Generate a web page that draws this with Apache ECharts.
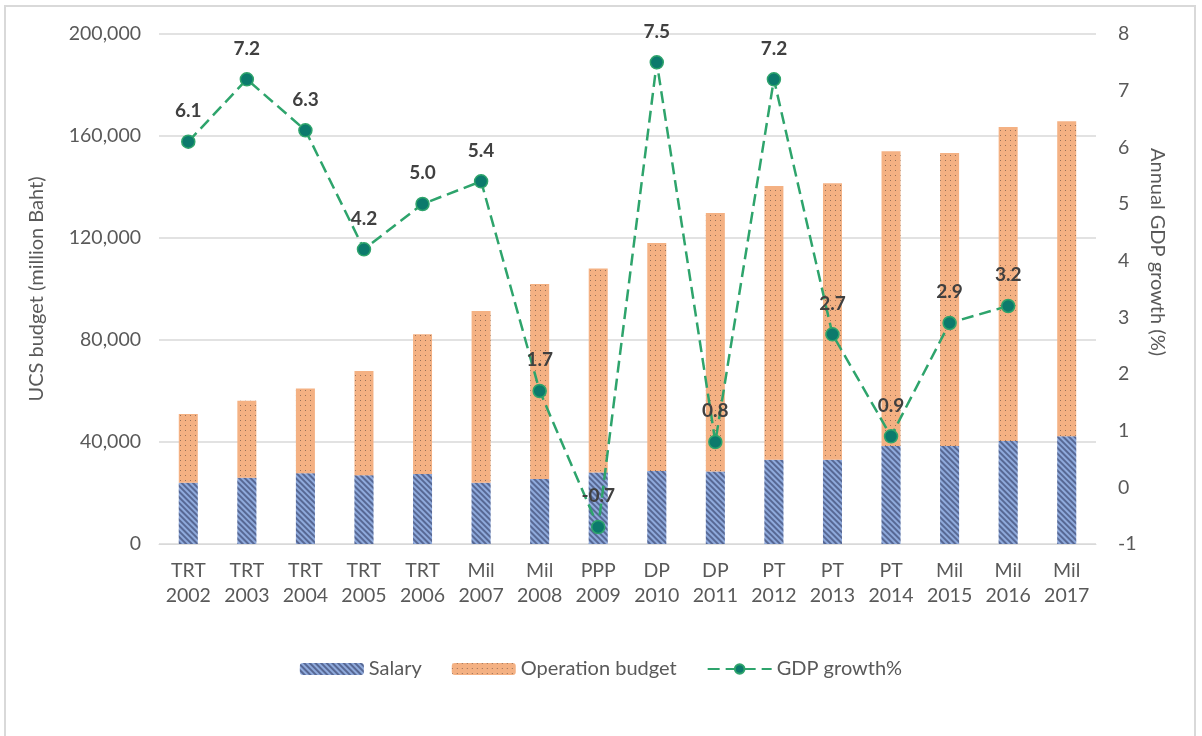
<!DOCTYPE html>
<html>
<head>
<meta charset="utf-8">
<script src="https://cdn.jsdelivr.net/npm/echarts@6/dist/echarts.min.js"></script>
<style>
  html, body { margin: 0; padding: 0; background: #fff; }
  #chart { width: 1202px; height: 736px; }
</style>
</head>
<body>
<div id="chart"></div>
<script>
var parties = ['TRT', 'TRT', 'TRT', 'TRT', 'TRT', 'Mil', 'Mil', 'PPP', 'DP', 'DP', 'PT', 'PT', 'PT', 'Mil', 'Mil', 'Mil'];
var years = ['2002', '2003', '2004', '2005', '2006', '2007', '2008', '2009', '2010', '2011', '2012', '2013', '2014', '2015', '2016', '2017'];
var salary = [24000, 26000, 27700, 27000, 27500, 24000, 25500, 28000, 28600, 28400, 33000, 33000, 38400, 38400, 40400, 42300];
var operation = [27000, 30200, 33300, 40800, 54800, 67400, 76500, 80000, 89400, 101400, 107400, 108500, 115600, 114900, 123100, 123500];
var gdpGrowth = [6.1, 7.2, 6.3, 4.2, 5.0, 5.4, 1.7, -0.7, 7.5, 0.8, 7.2, 2.7, 0.9, 2.9, 3.2, '-'];

var categories = parties.map(function (p, i) { return p + '\n' + years[i]; });
var font = 'Lato, "Open Sans", sans-serif';

var myChart = echarts.init(document.getElementById('chart'));

var option = {
    animation: false,
    textStyle: { fontFamily: font },
    graphic: [{
        type: 'rect',
        shape: { x: 5, y: 6, width: 1190, height: 740 },
        style: { fill: 'none', stroke: '#d9d9d9', lineWidth: 2 }
    }],
    grid: { left: 159, right: 106, top: 34, bottom: 192 },
    legend: {
        bottom: 52,
        itemWidth: 64,
        itemHeight: 12,
        itemGap: 30,
        textStyle: { fontSize: 20, color: '#595959', fontFamily: font },
        data: ['Salary', 'Operation budget', 'GDP growth%']
    },
    xAxis: {
        type: 'category',
        data: categories,
        axisLine: { lineStyle: { color: '#d9d9d9' } },
        axisTick: { show: false },
        axisLabel: { fontSize: 19.5, color: '#595959', lineHeight: 25, margin: 14, interval: 0 }
    },
    yAxis: [{
        type: 'value',
        min: 0,
        max: 200000,
        interval: 40000,
        name: 'UCS budget (million Baht)',
        nameLocation: 'middle',
        nameGap: 112,
        nameTextStyle: { fontSize: 20, color: '#595959' },
        axisLine: { show: false },
        axisTick: { show: false },
        axisLabel: {
            fontSize: 19.5, color: '#595959', margin: 18,
            formatter: function (v) { return v.toLocaleString('en-US'); }
        },
        splitLine: { lineStyle: { color: '#d9d9d9', width: 1.5 } }
    }, {
        type: 'value',
        min: -1,
        max: 8,
        interval: 1,
        name: 'Annual GDP growth (%)',
        nameLocation: 'middle',
        nameGap: 50,
        nameRotate: -90,
        nameTextStyle: { fontSize: 20, color: '#595959', padding: [0, 74, 0, 0] },
        axisLine: { show: false },
        axisTick: { show: false },
        axisLabel: { fontSize: 19.5, color: '#595959', margin: 22 },
        splitLine: { show: false }
    }],
    series: [{
        name: 'Salary',
        type: 'bar',
        stack: 'budget',
        barWidth: 19,
        data: salary,
        itemStyle: {
            color: '#8faadc',
            decal: {
                symbol: 'rect',
                color: 'rgba(50,60,100,0.6)',
                dashArrayX: [1, 0],
                dashArrayY: [2, 2],
                rotation: Math.PI / 4
            }
        }
    }, {
        name: 'Operation budget',
        type: 'bar',
        stack: 'budget',
        barWidth: 19,
        data: operation,
        itemStyle: {
            color: '#f4b183',
            decal: {
                symbol: 'rect',
                symbolSize: 1,
                color: 'rgba(90,70,60,0.6)',
                dashArrayX: [1, 4],
                dashArrayY: [1, 4]
            }
        }
    }, {
        name: 'GDP growth%',
        type: 'line',
        yAxisIndex: 1,
        data: gdpGrowth,
        symbol: 'circle',
        symbolSize: 13,
        lineStyle: { color: '#2ea46c', width: 2.5, type: [12, 6] },
        itemStyle: { color: '#0c7a6c', borderColor: '#2ea46c', borderWidth: 1.5 },
        label: {
            show: true,
            position: 'top',
            distance: 14,
            fontSize: 19,
            fontWeight: 'bold',
            color: '#404040',
            formatter: function (p) { return p.value.toFixed(1); }
        },
        z: 5
    }]
};

myChart.setOption(option);
</script>
</body>
</html>
